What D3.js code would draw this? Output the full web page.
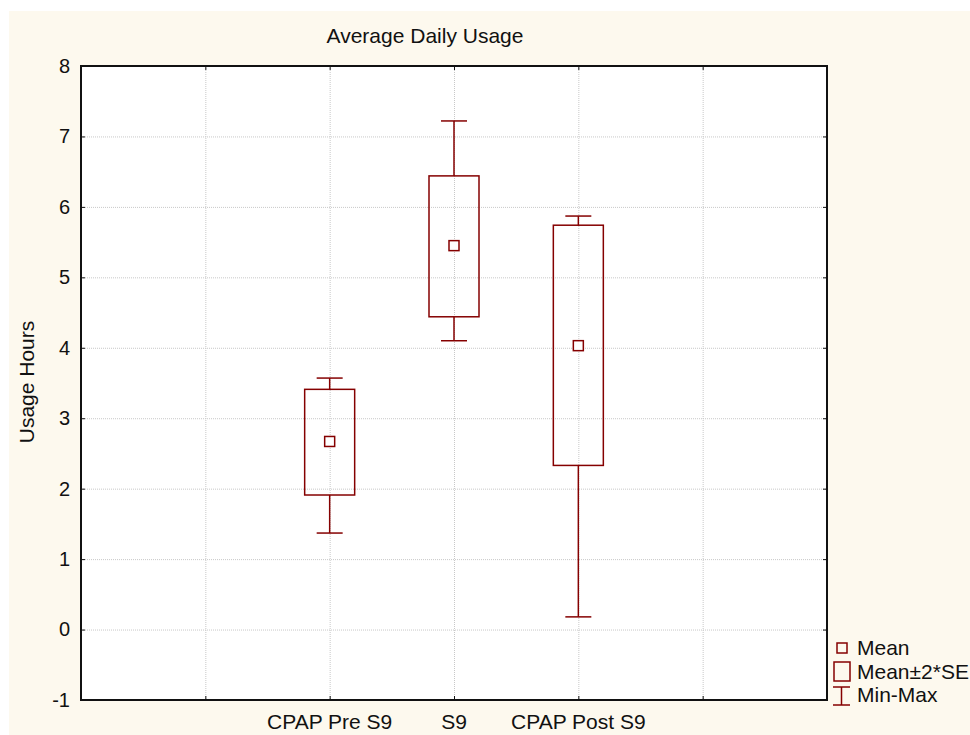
<!DOCTYPE html>
<meta charset="utf-8">
<style>
body {
  margin: 0;
  background: #fff;
}
text {
  font-family: "Liberation Sans", Arial, sans-serif;
  fill: #111;
}
.grid line {
  stroke: #c8c8c8;
  stroke-dasharray: 1,1;
}
.axis path, .axis line {
  stroke: #111;
}
.box rect, .box line {
  stroke: #850000;
  stroke-width: 1.5px;
}
</style>
<body>
<svg width="970" height="735"></svg>
<script src="https://cdn.jsdelivr.net/npm/d3@7"></script>
<script>
// data
var categories = ["CPAP Pre S9", "S9", "CPAP Post S9"];
var catPos = [2, 3, 4];
var means = [2.67, 5.45, 4.03];
var seLow = [1.91, 4.44, 2.33];
var seHigh = [3.41, 6.44, 5.74];
var minVals = [1.37, 4.10, 0.18];
var maxVals = [3.57, 7.22, 5.87];
var yTicks = [-1, 0, 1, 2, 3, 4, 5, 6, 7, 8];
var xTicks = [1, 2, 3, 4, 5];
var legendLabels = ["Mean", "Mean\u00b12*SE", "Min-Max"];

var svg = d3.select("svg");
var margin = {left: 81, right: 827, top: 66, bottom: 700};

svg.append("rect")
    .attr("x", 9).attr("y", 11)
    .attr("width", 961).attr("height", 724)
    .attr("fill", "#fdf9ee");

var x = d3.scaleLinear().domain([0, 6]).range([margin.left, margin.right]);
var y = d3.scaleLinear().domain([-1, 8]).range([margin.bottom, margin.top]);

svg.append("rect")
    .attr("x", margin.left).attr("y", margin.top)
    .attr("width", margin.right - margin.left)
    .attr("height", margin.bottom - margin.top)
    .attr("fill", "#fff");

// grid
var grid = svg.append("g").attr("class", "grid");
grid.selectAll(".h").data(yTicks.slice(1, -1)).enter().append("line")
    .attr("x1", margin.left).attr("x2", margin.right)
    .attr("y1", function(d) { return y(d) + 0.5; })
    .attr("y2", function(d) { return y(d) + 0.5; });
grid.selectAll(".v").data(xTicks).enter().append("line")
    .attr("y1", margin.top).attr("y2", margin.bottom)
    .attr("x1", function(d) { return x(d) + 0.5; })
    .attr("x2", function(d) { return x(d) + 0.5; });

// axes, ticks pointing inward
svg.append("g").attr("class", "axis")
    .attr("transform", "translate(" + margin.left + ",0)")
    .call(d3.axisLeft(y).tickValues(yTicks).tickSize(-4).tickPadding(11).tickFormat(function(d) { return String(d); }))
    .call(function(g) {
      g.select(".domain").remove();
      g.selectAll("text").style("font-size", "20px").attr("fill", "#111");
    });
svg.append("g").attr("class", "axis")
    .attr("transform", "translate(" + margin.right + ",0)")
    .call(d3.axisRight(y).tickValues(yTicks.slice(1, -1)).tickSize(-4).tickFormat(""))
    .call(function(g) { g.select(".domain").remove(); });
svg.append("g").attr("class", "axis")
    .attr("transform", "translate(0," + margin.top + ")")
    .call(d3.axisTop(x).tickValues(xTicks).tickSize(-4).tickFormat(""))
    .call(function(g) { g.select(".domain").remove(); });
svg.append("g").attr("class", "axis")
    .attr("transform", "translate(0," + margin.bottom + ")")
    .call(d3.axisBottom(x).tickValues(xTicks).tickSize(-4).tickFormat(""))
    .call(function(g) { g.select(".domain").remove(); });

svg.append("rect")
    .attr("x", margin.left).attr("y", margin.top)
    .attr("width", margin.right - margin.left)
    .attr("height", margin.bottom - margin.top)
    .attr("fill", "none")
    .attr("stroke", "#111")
    .attr("stroke-width", 2);

// category labels
svg.selectAll(".cat").data(categories).enter().append("text")
    .attr("x", function(d, i) { return x(catPos[i]); })
    .attr("y", 729)
    .attr("text-anchor", "middle")
    .style("font-size", "21px")
    .text(function(d) { return d; });

// boxes
var boxW = 50, capW = 26, meanS = 10;
var box = svg.append("g").attr("class", "box");
categories.forEach(function(c, i) {
  var cx = x(catPos[i]);
  box.append("line")
      .attr("x1", cx).attr("x2", cx)
      .attr("y1", y(maxVals[i])).attr("y2", y(seHigh[i]));
  box.append("line")
      .attr("x1", cx).attr("x2", cx)
      .attr("y1", y(seLow[i])).attr("y2", y(minVals[i]));
  box.append("line")
      .attr("x1", cx - capW / 2).attr("x2", cx + capW / 2)
      .attr("y1", y(maxVals[i])).attr("y2", y(maxVals[i]));
  box.append("line")
      .attr("x1", cx - capW / 2).attr("x2", cx + capW / 2)
      .attr("y1", y(minVals[i])).attr("y2", y(minVals[i]));
  box.append("rect")
      .attr("x", cx - boxW / 2).attr("width", boxW)
      .attr("y", y(seHigh[i])).attr("height", y(seLow[i]) - y(seHigh[i]))
      .attr("fill", "none");
  box.append("rect")
      .attr("x", cx - meanS / 2).attr("y", y(means[i]) - meanS / 2)
      .attr("width", meanS).attr("height", meanS)
      .attr("fill", "#fff");
});

// titles
svg.append("text")
    .attr("x", 425).attr("y", 43)
    .attr("text-anchor", "middle")
    .style("font-size", "21px")
    .text("Average Daily Usage");
svg.append("text")
    .attr("transform", "translate(34,382) rotate(-90)")
    .attr("text-anchor", "middle")
    .style("font-size", "21px")
    .text("Usage Hours");

// legend
var lg = svg.append("g").attr("class", "box");
lg.append("rect").attr("x", 837).attr("y", 643).attr("width", 10).attr("height", 10).attr("fill", "none");
lg.append("rect").attr("x", 834).attr("y", 662).attr("width", 16).attr("height", 19).attr("fill", "none");
lg.append("line").attr("x1", 841.5).attr("x2", 841.5).attr("y1", 687).attr("y2", 705);
lg.append("line").attr("x1", 833).attr("x2", 850).attr("y1", 687).attr("y2", 687);
lg.append("line").attr("x1", 833).attr("x2", 850).attr("y1", 705).attr("y2", 705);
svg.selectAll(".leg").data(legendLabels).enter().append("text")
    .attr("x", 857)
    .attr("y", function(d, i) { return 655 + i * 23.5; })
    .style("font-size", "21px")
    .text(function(d) { return d; });
</script>
</body>
